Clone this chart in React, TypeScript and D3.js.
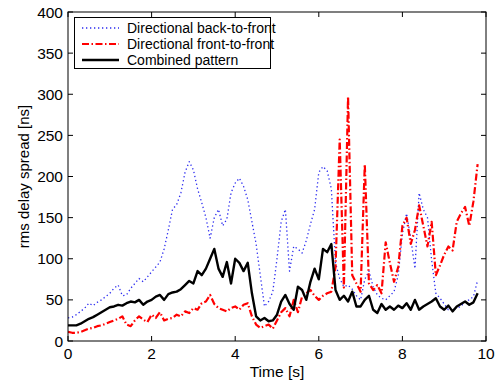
import React from "react";
import * as d3 from "d3";

const times = [
  0.0, 0.1, 0.2, 0.3, 0.4, 0.5, 0.6, 0.7, 0.8, 0.9,
  1.0, 1.1, 1.2, 1.3, 1.4, 1.5, 1.6, 1.7, 1.8, 1.9,
  2.0, 2.1, 2.2, 2.3, 2.4, 2.5, 2.6, 2.7, 2.8, 2.9,
  3.0, 3.1, 3.2, 3.3, 3.4, 3.5, 3.6, 3.7, 3.8, 3.9,
  4.0, 4.1, 4.2, 4.3, 4.4, 4.5, 4.6, 4.7, 4.8, 4.9,
  5.0, 5.1, 5.2, 5.3, 5.4, 5.5, 5.6, 5.7, 5.8, 5.9,
  6.0, 6.1, 6.2, 6.3, 6.4, 6.5, 6.6, 6.7, 6.8, 6.9,
  7.0, 7.1, 7.2, 7.3, 7.4, 7.5, 7.6, 7.7, 7.8, 7.9,
  8.0, 8.1, 8.2, 8.3, 8.4, 8.5, 8.6, 8.7, 8.8, 8.9,
  9.0, 9.1, 9.2, 9.3, 9.4, 9.5, 9.6, 9.7, 9.8,
];

const backToFront = [
  28, 29, 32, 36, 40, 46, 43, 47, 50, 54,
  58, 64, 68, 55, 56, 64, 70, 76, 72, 78,
  84, 90, 96, 112, 135, 160, 166, 180, 205, 218,
  208, 185, 168, 150, 125, 150, 160, 140, 148, 180,
  192, 198, 188, 172, 145, 118, 80, 42, 48, 60,
  100, 145, 160, 85, 115, 112, 107, 122, 142, 160,
  205, 212, 207, 185, 95, 76, 66, 68, 63, 55,
  50, 75, 85, 66, 56, 52, 50, 55, 60, 80,
  130, 155, 125, 88, 180, 160, 150, 98, 58, 52,
  45, 38, 38, 40, 42, 48, 50, 54, 74,
];

const frontToFront = [
  11, 10, 10, 11, 13, 15, 16, 18, 19, 21,
  23, 25, 27, 30, 20, 18, 25, 30, 26, 23,
  32, 28, 35, 25, 27, 28, 32, 30, 36, 34,
  40, 38, 46, 48, 56, 45, 40, 38, 36, 40,
  42, 38, 44, 46, 30, 20, 16, 18, 20, 15,
  25, 35, 40, 30, 50, 35, 54, 58, 62, 55,
  50, 55, 58, 60, 90, 245, 65, 297, 80, 70,
  60, 215, 70, 62, 68, 58, 120, 95, 72, 90,
  140, 150, 118, 135, 165, 140, 115, 145, 80, 92,
  105, 115, 110, 145, 155, 163, 140, 170, 215,
];

const combined = [
  19, 19, 19, 21, 24, 27, 29, 32, 35, 38,
  41, 42, 44, 43, 46, 48, 47, 50, 44, 48,
  50, 54, 56, 50, 57, 59, 60, 63, 68, 73,
  70, 85, 80, 88, 100, 112, 88, 78, 96, 70,
  100, 95, 85, 95, 58, 30, 25, 28, 24, 25,
  32, 48, 56, 45, 38, 66, 62, 50, 72, 88,
  75, 112, 108, 118, 62, 50, 55, 48, 60, 42,
  42, 50, 55, 38, 34, 45, 38, 42, 38, 43,
  40, 46, 38, 50, 38, 42, 45, 48, 52, 42,
  38, 43, 36, 42, 45, 48, 44, 47, 58,
];

const xTicks = [0, 2, 4, 6, 8, 10];
const yTicks = [0, 50, 100, 150, 200, 250, 300, 350, 400];

const seriesNames = [
  "Directional back-to-front",
  "Directional front-to-front",
  "Combined pattern",
];

const W = 498;
const H = 383;
const left = 68;
const right = 486;
const top = 12;
const bottom = 341;

export default function App() {
  const x = d3.scaleLinear().domain([0, 10]).range([left, right]);
  const y = d3.scaleLinear().domain([0, 400]).range([bottom, top]);
  const line = (vals: number[]) =>
    d3
      .line<number>()
      .x((_, i) => x(times[i]))
      .y((d) => y(d))(vals) || "";

  const styles = [
    { stroke: "#2b2bf0", width: 1.3, dash: "1.3,2.7", data: backToFront },
    { stroke: "#ff0000", width: 2.2, dash: "7,2.5,1.5,2.5", data: frontToFront },
    { stroke: "#000000", width: 2.4, dash: "", data: combined },
  ];
  const font = "Liberation Sans, Arial, Helvetica, sans-serif";
  const tl = 5;

  return (
    <svg
      width={W}
      height={H}
      style={{ position: "absolute", left: 0, top: 0, background: "#fff" }}
      fontFamily={font}
    >
      <rect x={0} y={0} width={W} height={H} fill="#fff" />
      <defs>
        <clipPath id="plotclip">
          <rect x={left} y={top} width={right - left} height={bottom - top} />
        </clipPath>
      </defs>
      <g clipPath="url(#plotclip)">
        {styles.map((s, i) => (
          <path
            key={i}
            d={line(s.data)}
            fill="none"
            stroke={s.stroke}
            strokeWidth={s.width}
            strokeDasharray={s.dash || undefined}
            strokeLinejoin="round"
          />
        ))}
      </g>
      <rect
        x={left}
        y={top}
        width={right - left}
        height={bottom - top}
        fill="none"
        stroke="#000"
        strokeWidth={1}
      />
      {xTicks.map((t) => (
        <g key={"x" + t}>
          <line x1={x(t)} x2={x(t)} y1={bottom} y2={bottom - tl} stroke="#000" />
          <line x1={x(t)} x2={x(t)} y1={top} y2={top + tl} stroke="#000" />
          <text x={x(t)} y={bottom + 17.5} textAnchor="middle" fontSize={15.5}>
            {t}
          </text>
        </g>
      ))}
      {yTicks.map((t) => (
        <g key={"y" + t}>
          <line x1={left} x2={left + tl} y1={y(t)} y2={y(t)} stroke="#000" />
          <line x1={right} x2={right - tl} y1={y(t)} y2={y(t)} stroke="#000" />
          <text x={left - 5} y={y(t) + 5.5} textAnchor="end" fontSize={15.5}>
            {t}
          </text>
        </g>
      ))}
      <text x={(left + right) / 2} y={377} textAnchor="middle" fontSize={15.5}>
        Time [s]
      </text>
      <text
        transform={`translate(29,${(top + bottom) / 2}) rotate(-90)`}
        textAnchor="middle"
        fontSize={15}
      >
        rms delay spread [ns]
      </text>
      <g>
        <rect x={74.5} y={17.5} width={196} height={51} fill="#fff" stroke="#000" strokeWidth={1} />
        {seriesNames.map((n, i) => (
          <g key={n}>
            <line
              x1={82}
              x2={119}
              y1={28 + i * 16}
              y2={28 + i * 16}
              stroke={styles[i].stroke}
              strokeWidth={styles[i].width}
              strokeDasharray={styles[i].dash || undefined}
            />
            <text x={127} y={28 + i * 16 + 5} fontSize={14}>
              {n}
            </text>
          </g>
        ))}
      </g>
    </svg>
  );
}
